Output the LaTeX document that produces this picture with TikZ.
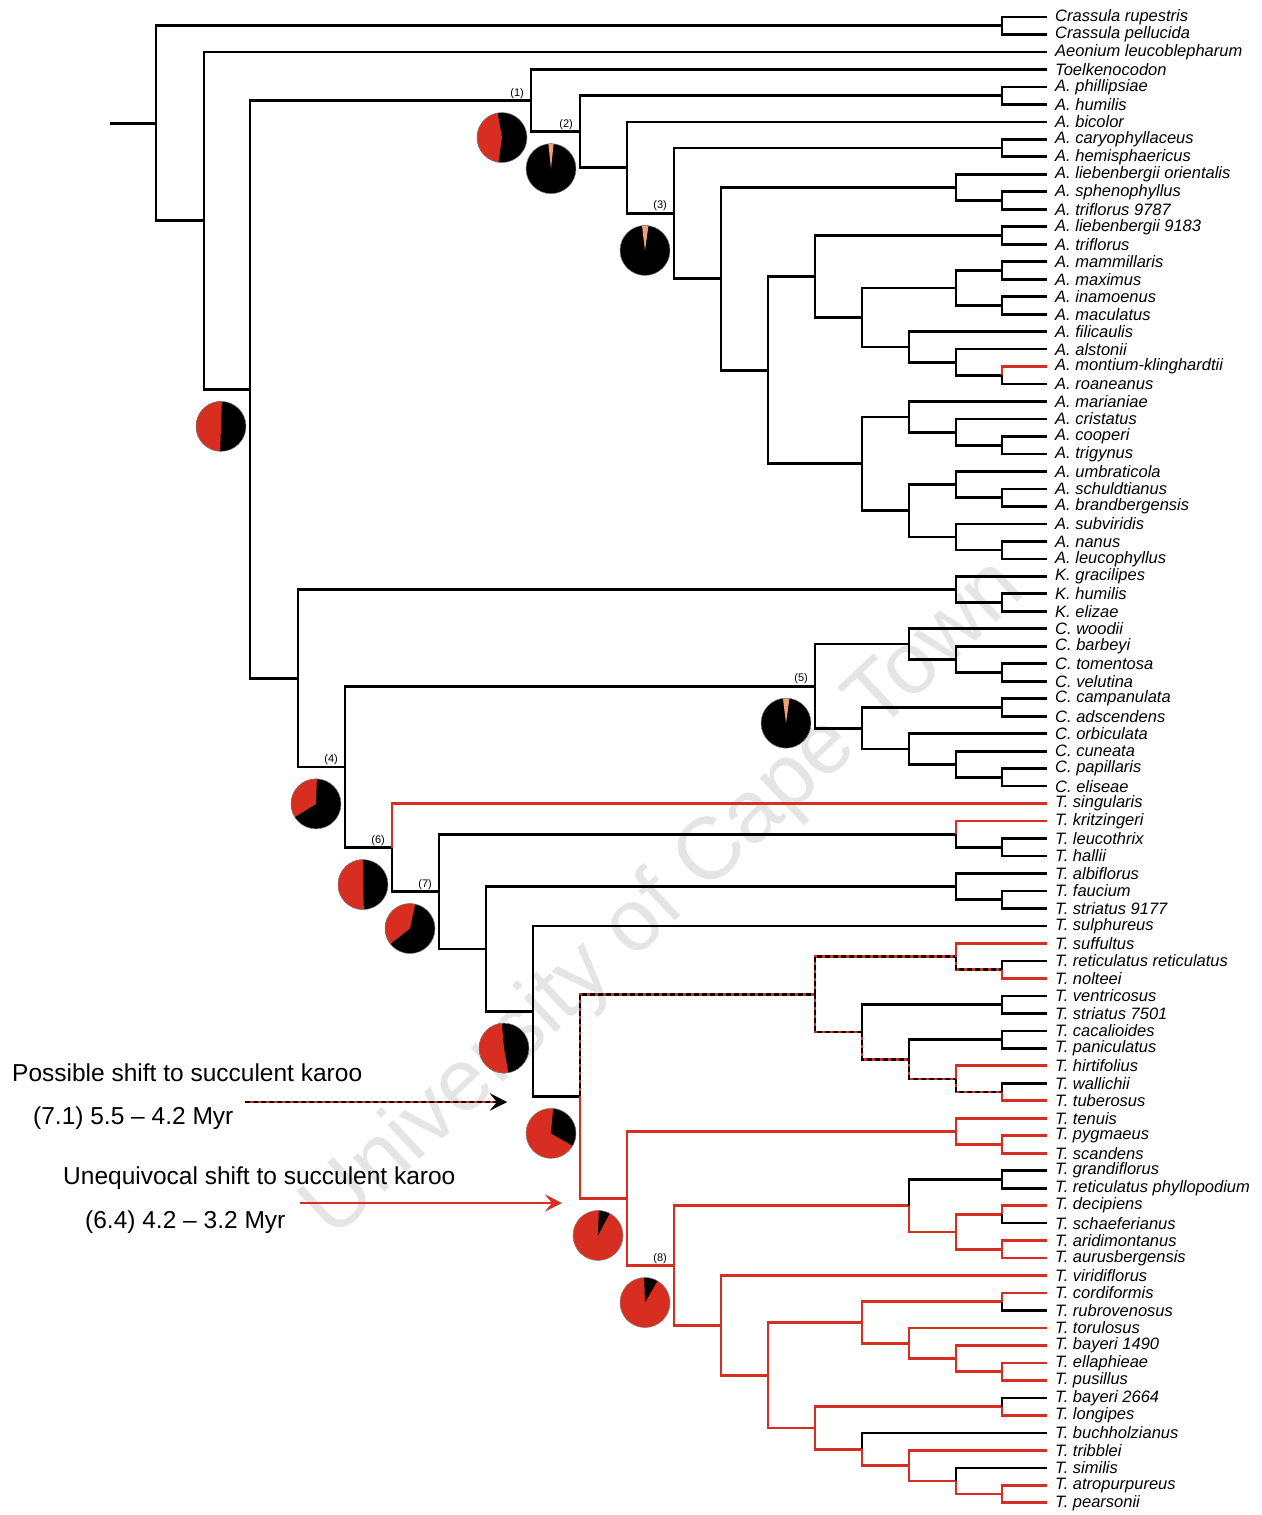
\documentclass[tikz,border=0pt]{standalone}
\usepackage{fontspec}
\setmainfont{Liberation Sans}
\usetikzlibrary{calc,arrows.meta}
\definecolor{tred}{RGB}{216,46,34}
\definecolor{salm}{RGB}{238,160,118}
\newcommand\tn[4]{\path let \p1=(#3), \p2=(#4) in coordinate (#1) at (#2pt,{0.5*(\y1+\y2)});}
\newcommand\Eblk[2]{\draw[bbr] (#1) |- (#2);}
\newcommand\Ered[2]{\draw[rbr] (#1) |- (#2);}
\newcommand\Edsh[2]{\draw[dbr] (#1) |- (#2);}
\newcommand\piech[5]{%
 \coordinate (pie#1) at ($(#1)+(-29,37)$);
 \fill[#2] (pie#1) circle (25pt);
 \fill[#3] (pie#1) -- ++(#4:25pt) arc[start angle=#4,end angle=#5,radius=25pt] -- cycle;
 \draw[black!50,line width=0.5pt] (pie#1) circle (25pt);}
\begin{document}
\begin{tikzpicture}[x=1pt,y=-1pt,
 bbr/.style={draw=black,line width=2.7pt,line join=miter},
 rbr/.style={draw=tred,line width=2.7pt,line join=miter},
 dbr/.style={draw=black,line width=2.7pt,line join=miter,dash pattern=on 5pt off 3pt,preaction={draw=tred,solid,line width=2.7pt}},
 lab/.style={anchor=west,inner sep=0pt,font=\fontsize{16.5}{17}\selectfont\itshape},
 num/.style={anchor=south east,inner sep=0pt,font=\fontsize{11}{11}\selectfont},
 legt/.style={anchor=west,inner sep=0pt,font=\fontsize{24.5}{25}\selectfont}]
\useasboundingbox (0,0) rectangle (1261,1515);
\fill[white] (0,0) rectangle (1261,1515);
% watermark
\node[rotate=43,text=black!10,font=\fontsize{88}{88}\selectfont,inner sep=0pt] (wm) at (665,900) {University of Cape Town};
% leaves
\foreach \i/\nm in {1/Crassula rupestris,2/Crassula pellucida,3/Aeonium leucoblepharum,4/Toelkenocodon,
5/A. phillipsiae,6/A. humilis,7/A. bicolor,8/A. caryophyllaceus,9/A. hemisphaericus,
10/A. liebenbergii orientalis,11/A. sphenophyllus,12/A. triflorus 9787,13/A. liebenbergii 9183,
14/A. triflorus,15/A. mammillaris,16/A. maximus,17/A. inamoenus,18/A. maculatus,19/A. filicaulis,
20/A. alstonii,21/A. montium-klinghardtii,22/A. roaneanus,23/A. marianiae,24/A. cristatus,
25/A. cooperi,26/A. trigynus,27/A. umbraticola,28/A. schuldtianus,29/A. brandbergensis,
30/A. subviridis,31/A. nanus,32/A. leucophyllus,33/K. gracilipes,34/K. humilis,35/K. elizae,
36/C. woodii,37/C. barbeyi,38/C. tomentosa,39/C. velutina,40/C. campanulata,41/C. adscendens,
42/C. orbiculata,43/C. cuneata,44/C. papillaris,45/C. eliseae,46/T. singularis,47/T. kritzingeri,
48/T. leucothrix,49/T. hallii,50/T. albiflorus,51/T. faucium,52/T. striatus 9177,53/T. sulphureus,
54/T. suffultus,55/T. reticulatus reticulatus,56/T. nolteei,57/T. ventricosus,58/T. striatus 7501,
59/T. cacalioides,60/T. paniculatus,61/T. hirtifolius,62/T. wallichii,63/T. tuberosus,64/T. tenuis,
65/T. pygmaeus,66/T. scandens,67/T. grandiflorus,68/T. reticulatus phyllopodium,69/T. decipiens,
70/T. schaeferianus,71/T. aridimontanus,72/T. aurusbergensis,73/T. viridiflorus,74/T. cordiformis,
75/T. rubrovenosus,76/T. torulosus,77/T. bayeri 1490,78/T. ellaphieae,79/T. pusillus,
80/T. bayeri 2664,81/T. longipes,82/T. buchholzianus,83/T. tribblei,84/T. similis,
85/T. atropurpureus,86/T. pearsonii}{
 \coordinate (t\i) at (1047,{17+(\i-1)*17.48});
 \node[lab] (l\i) at (1055,{17+(\i-1)*17.48}) {\nm};
}
% internal nodes
\tn{c12}{1002}{t1}{t2}
\tn{c56}{1002}{t5}{t6}
\tn{c89}{1002}{t8}{t9}
\tn{c1112}{1002}{t11}{t12}
\tn{n10}{956}{t10}{c1112}
\tn{c1314}{1002}{t13}{t14}
\tn{c1516}{1002}{t15}{t16}
\tn{c1718}{1002}{t17}{t18}
\tn{nh}{956}{c1516}{c1718}
\tn{c2122}{1002}{t21}{t22}
\tn{nj}{956}{t20}{c2122}
\tn{ni}{909}{t19}{nj}
\tn{ng}{862}{nh}{ni}
\tn{ne}{815}{c1314}{ng}
\tn{c2526}{1002}{t25}{t26}
\tn{nm}{956}{t24}{c2526}
\tn{nk}{909}{t23}{nm}
\tn{c2829}{1002}{t28}{t29}
\tn{nn}{956}{t27}{c2829}
\tn{c3132}{1002}{t31}{t32}
\tn{no}{956}{t30}{c3132}
\tn{nl}{909}{nn}{no}
\tn{nf}{862}{nk}{nl}
\tn{nd}{768}{ne}{nf}
\tn{nc}{721}{n10}{nd}
\tn{n3}{674}{c89}{nc}
\tn{n3a}{627}{t7}{n3}
\tn{n2}{580}{c56}{n3a}
\tn{n1}{531}{t4}{n2}
\tn{c3435}{1002}{t34}{t35}
\tn{kk}{956}{t33}{c3435}
\tn{c3839}{1002}{t38}{t39}
\tn{nq}{956}{t37}{c3839}
\tn{np}{909}{t36}{nq}
\tn{c4041}{1002}{t40}{t41}
\tn{c4445}{1002}{t44}{t45}
\tn{nt}{956}{t43}{c4445}
\tn{ns}{909}{t42}{nt}
\tn{nr}{862}{c4041}{ns}
\tn{n5}{815}{np}{nr}
\tn{c4849}{1002}{t48}{t49}
\tn{nu}{956}{t47}{c4849}
\tn{c5152}{1002}{t51}{t52}
\tn{nw}{956}{t50}{c5152}
\tn{c5556}{1002}{t55}{t56}
\tn{da}{956}{t54}{c5556}
\tn{c5758}{1002}{t57}{t58}
\tn{c5960}{1002}{t59}{t60}
\tn{c6263}{1002}{t62}{t63}
\tn{dd}{956}{t61}{c6263}
\tn{dc}{909}{c5960}{dd}
\tn{db}{862}{c5758}{dc}
\tn{dn}{815}{da}{db}
\tn{c6566}{1002}{t65}{t66}
\tn{ea}{956}{t64}{c6566}
\tn{c6768}{1002}{t67}{t68}
\tn{c6970}{1002}{t69}{t70}
\tn{c7172}{1002}{t71}{t72}
\tn{ed}{956}{c6970}{c7172}
\tn{eb}{909}{c6768}{ed}
\tn{c7475}{1002}{t74}{t75}
\tn{c7879}{1002}{t78}{t79}
\tn{ei}{956}{t77}{c7879}
\tn{eh}{909}{t76}{ei}
\tn{ef}{862}{c7475}{eh}
\tn{c8081}{1002}{t80}{t81}
\tn{c8586}{1002}{t85}{t86}
\tn{el}{956}{t84}{c8586}
\tn{ek}{909}{t83}{el}
\tn{ej}{862}{t82}{ek}
\tn{eg}{815}{c8081}{ej}
\tn{ee}{768}{ef}{eg}
\tn{ec}{721}{t73}{ee}
\tn{n8}{674}{eb}{ec}
\tn{en}{627}{ea}{n8}
\tn{ny}{580}{dn}{en}
\tn{nx}{533}{t53}{ny}
\tn{nv}{486}{nw}{nx}
\tn{n7}{439}{nu}{nv}
\tn{n6}{392}{t46}{n7}
\tn{n4}{345}{n5}{n6}
\tn{nkk}{298}{kk}{n4}
\tn{nb}{250}{n1}{nkk}
\tn{na}{204}{t3}{nb}
\tn{rt}{156}{c12}{na}
\path let \p1=(rt) in coordinate (stub) at (110pt,\y1);
% edges
\draw[bbr] (stub) -- (rt);
\Eblk{rt}{c12} \Eblk{rt}{na}
\Eblk{c12}{t1} \Eblk{c12}{t2}
\Eblk{na}{t3} \Eblk{na}{nb}
\Eblk{nb}{n1} \Eblk{nb}{nkk}
\Eblk{n1}{t4} \Eblk{n1}{n2}
\Eblk{n2}{c56} \Eblk{n2}{n3a}
\Eblk{c56}{t5} \Eblk{c56}{t6}
\Eblk{n3a}{t7} \Eblk{n3a}{n3}
\Eblk{n3}{c89} \Eblk{n3}{nc}
\Eblk{c89}{t8} \Eblk{c89}{t9}
\Eblk{nc}{n10} \Eblk{nc}{nd}
\Eblk{n10}{t10} \Eblk{n10}{c1112}
\Eblk{c1112}{t11} \Eblk{c1112}{t12}
\Eblk{nd}{ne} \Eblk{nd}{nf}
\Eblk{ne}{c1314} \Eblk{ne}{ng}
\Eblk{c1314}{t13} \Eblk{c1314}{t14}
\Eblk{ng}{nh} \Eblk{ng}{ni}
\Eblk{nh}{c1516} \Eblk{nh}{c1718}
\Eblk{c1516}{t15} \Eblk{c1516}{t16}
\Eblk{c1718}{t17} \Eblk{c1718}{t18}
\Eblk{ni}{t19} \Eblk{ni}{nj}
\Eblk{nj}{t20} \Eblk{nj}{c2122}
\Ered{c2122}{t21} \Eblk{c2122}{t22}
\Eblk{nf}{nk} \Eblk{nf}{nl}
\Eblk{nk}{t23} \Eblk{nk}{nm}
\Eblk{nm}{t24} \Eblk{nm}{c2526}
\Eblk{c2526}{t25} \Eblk{c2526}{t26}
\Eblk{nl}{nn} \Eblk{nl}{no}
\Eblk{nn}{t27} \Eblk{nn}{c2829}
\Eblk{c2829}{t28} \Eblk{c2829}{t29}
\Eblk{no}{t30} \Eblk{no}{c3132}
\Eblk{c3132}{t31} \Eblk{c3132}{t32}
\Eblk{nkk}{kk} \Eblk{nkk}{n4}
\Eblk{kk}{t33} \Eblk{kk}{c3435}
\Eblk{c3435}{t34} \Eblk{c3435}{t35}
\Eblk{n4}{n5} \Eblk{n4}{n6}
\Eblk{n5}{np} \Eblk{n5}{nr}
\Eblk{np}{t36} \Eblk{np}{nq}
\Eblk{nq}{t37} \Eblk{nq}{c3839}
\Eblk{c3839}{t38} \Eblk{c3839}{t39}
\Eblk{nr}{c4041} \Eblk{nr}{ns}
\Eblk{c4041}{t40} \Eblk{c4041}{t41}
\Eblk{ns}{t42} \Eblk{ns}{nt}
\Eblk{nt}{t43} \Eblk{nt}{c4445}
\Eblk{c4445}{t44} \Eblk{c4445}{t45}
\Ered{n6}{t46} \Eblk{n6}{n7}
\Eblk{n7}{nu} \Eblk{n7}{nv}
\Ered{nu}{t47} \Eblk{nu}{c4849}
\Eblk{c4849}{t48} \Eblk{c4849}{t49}
\Eblk{nv}{nw} \Eblk{nv}{nx}
\Eblk{nw}{t50} \Eblk{nw}{c5152}
\Eblk{c5152}{t51} \Eblk{c5152}{t52}
\Eblk{nx}{t53} \Eblk{nx}{ny}
\Edsh{ny}{dn} \Ered{ny}{en}
\Edsh{dn}{da} \Edsh{dn}{db}
\Ered{da}{t54} \Edsh{da}{c5556}
\Eblk{c5556}{t55} \Ered{c5556}{t56}
\Eblk{db}{c5758} \Edsh{db}{dc}
\Eblk{c5758}{t57} \Eblk{c5758}{t58}
\Eblk{dc}{c5960} \Edsh{dc}{dd}
\Eblk{c5960}{t59} \Eblk{c5960}{t60}
\Ered{dd}{t61} \Edsh{dd}{c6263}
\Eblk{c6263}{t62} \Ered{c6263}{t63}
\Ered{en}{ea} \Ered{en}{n8}
\Ered{ea}{t64} \Ered{ea}{c6566}
\Ered{c6566}{t65} \Ered{c6566}{t66}
\Ered{n8}{eb} \Ered{n8}{ec}
\Eblk{eb}{c6768} \Ered{eb}{ed}
\Eblk{c6768}{t67} \Eblk{c6768}{t68}
\Ered{ed}{c6970} \Ered{ed}{c7172}
\Ered{c6970}{t69} \Eblk{c6970}{t70}
\Ered{c7172}{t71} \Ered{c7172}{t72}
\Ered{ec}{t73} \Ered{ec}{ee}
\Ered{ee}{ef} \Ered{ee}{eg}
\Ered{ef}{c7475} \Ered{ef}{eh}
\Ered{c7475}{t74} \Eblk{c7475}{t75}
\Ered{eh}{t76} \Ered{eh}{ei}
\Ered{ei}{t77} \Ered{ei}{c7879}
\Ered{c7879}{t78} \Ered{c7879}{t79}
\Ered{eg}{c8081} \Ered{eg}{ej}
\Eblk{c8081}{t80} \Ered{c8081}{t81}
\Eblk{ej}{t82} \Ered{ej}{ek}
\Ered{ek}{t83} \Ered{ek}{el}
\Eblk{el}{t84} \Ered{el}{c8586}
\Ered{c8586}{t85} \Ered{c8586}{t86}
% pies
\piech{nb}{black}{tred}{88}{268}
\piech{n1}{black}{tred}{100}{262}
\piech{n2}{black}{salm}{84}{96}
\piech{n3}{black}{salm}{82}{97}
\piech{n5}{black}{salm}{82}{97}
\piech{n4}{black}{tred}{88}{212}
\piech{n6}{black}{tred}{90}{272}
\piech{n7}{black}{tred}{78}{218}
\piech{nx}{black}{tred}{95}{280}
\piech{ny}{tred}{black}{-30}{85}
\piech{en}{tred}{black}{62}{88}
\piech{n8}{tred}{black}{60}{92}
% node numbers
\node[num] (lb1) at ($(n1)+(-7,-2)$) {(1)};
\node[num] (lb2) at ($(n2)+(-7,-2)$) {(2)};
\node[num] (lb3) at ($(n3)+(-7,-2)$) {(3)};
\node[num] (lb4) at ($(n4)+(-7,-2)$) {(4)};
\node[num] (lb5) at ($(n5)+(-7,-2)$) {(5)};
\node[num] (lb6) at ($(n6)+(-7,-2)$) {(6)};
\node[num] (lb7) at ($(n7)+(-7,-2)$) {(7)};
\node[num] (lb8) at ($(n8)+(-7,-2)$) {(8)};
% legend
\node[legt] (tx1) at (12,1073) {Possible shift to succulent karoo};
\node[legt] (tx2) at (33,1118) {(7.1) 5.5 – 4.2 Myr};
\node[legt] (tx3) at (63,1178) {Unequivocal shift to succulent karoo};
\node[legt] (tx4) at (85,1222) {(6.4) 4.2 – 3.2 Myr};
\coordinate (ar1s) at (245,1102);
\coordinate (ar1e) at (507,1102);
\coordinate (ar2s) at (300,1203);
\coordinate (ar2e) at (562,1203);
\draw[dbr,-{Stealth[length=17pt,width=17pt,inset=7pt]}] (ar1s) -- (ar1e);
\draw[rbr,-{Stealth[length=17pt,width=17pt,inset=7pt]}] (ar2s) -- (ar2e);
\end{tikzpicture}
\end{document}
